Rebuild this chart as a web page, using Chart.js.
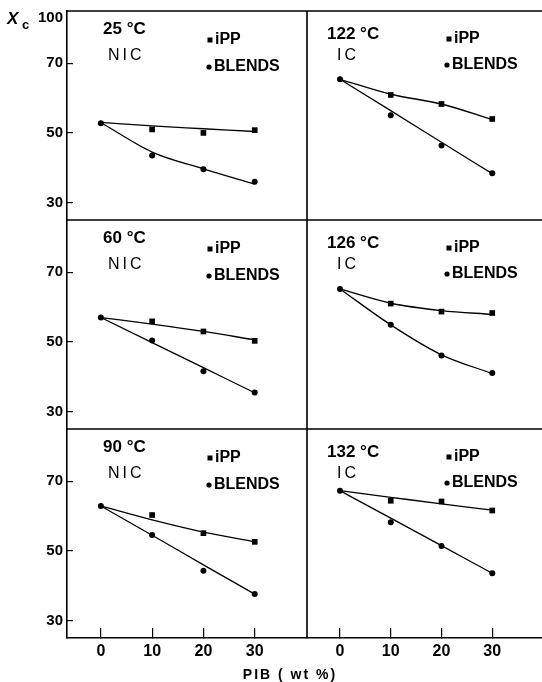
<!DOCTYPE html>
<html>
<head>
<meta charset="utf-8">
<script src="https://cdn.jsdelivr.net/npm/chart.js@4.4.0/dist/chart.umd.min.js"></script>
<style>
  html, body { margin: 0; padding: 0; background: #fff; }
  #wrap { position: relative; width: 542px; height: 682px; }
</style>
</head>
<body>
<div id="wrap"><canvas id="myChart" width="542" height="682"></canvas></div>
<script>
// PIB content of the blends (wt %)
const pibWt = [0, 10, 20, 30];

// panels, row by row: left column NIC, right column IC
const tempLabels = ['25', '122', '60', '126', '90', '132'];
const modeLabels = ['NIC', 'IC', 'NIC', 'IC', 'NIC', 'IC'];

// crystallinity Xc (%)
const ippXc = [
    [52.8, 51.0, 50.0, 50.8],
    [65.4, 60.9, 58.3, 54.0],
    [57.0, 55.9, 53.0, 50.3],
    [65.2, 61.0, 58.7, 58.3],
    [62.9, 60.3, 55.1, 52.6],
    [67.3, 64.4, 64.2, 61.6]
];
const blendXc = [
    [52.8, 43.5, 39.6, 36.0],
    [65.4, 55.1, 46.4, 38.4],
    [57.0, 50.4, 41.6, 35.5],
    [65.2, 54.9, 46.1, 41.1],
    [62.9, 54.6, 44.3, 37.6],
    [67.3, 58.2, 51.4, 43.6]
];

// hand drawn trend curves through the points
const ippFit = [
    [53.0, 52.0, 51.2, 50.4],
    [65.4, 61.1, 58.3, 53.8],
    [57.0, 55.1, 53.0, 50.6],
    [65.2, 61.1, 59.0, 57.9],
    [62.9, 58.9, 55.4, 52.6],
    [67.3, 65.4, 63.5, 61.7]
];
const blendFit = [
    [53.0, 44.5, 39.7, 35.3],
    [65.4, 56.4, 47.3, 38.3],
    [57.0, 49.8, 42.6, 35.4],
    [65.2, 54.9, 46.3, 40.9],
    [62.9, 54.5, 46.0, 37.6],
    [67.3, 59.4, 51.5, 43.6]
];

const yTicks = [30, 50, 70];
const xTicks = [0, 10, 20, 30];

const FONT = 'Liberation Sans';

function pts(ys) {
    return pibWt.map((x, i) => ({ x: x, y: ys[i] }));
}

// stacked left axes are laid out bottom-up, so the top row gets y2
function rowAxis(p) {
    return 'y' + (2 - Math.floor(p / 2));
}

// no extra room for overflowing tick labels, the frame is fixed
function noPad(s) {
    s.paddingTop = 0; s.paddingBottom = 0; s.paddingLeft = 0; s.paddingRight = 0;
}

// build datasets, one set of four per panel
const datasets = [];
for (let p = 0; p < 6; p++) {
    const xId = p % 2 === 0 ? 'xa' : 'xb';
    const yId = rowAxis(p);
    datasets.push({
        label: 'iPP fit', data: pts(ippFit[p]), xAxisID: xId, yAxisID: yId,
        showLine: true, borderColor: '#000', borderWidth: 1.3, pointRadius: 0,
        cubicInterpolationMode: 'monotone'
    });
    datasets.push({
        label: 'BLENDS fit', data: pts(blendFit[p]), xAxisID: xId, yAxisID: yId,
        showLine: true, borderColor: '#000', borderWidth: 1.3, pointRadius: 0,
        cubicInterpolationMode: 'monotone'
    });
    datasets.push({
        label: 'iPP', data: pts(ippXc[p]), xAxisID: xId, yAxisID: yId,
        showLine: false, pointStyle: 'rect', pointRadius: [0, 4, 4, 4],
        backgroundColor: '#000', borderColor: '#000', borderWidth: 0
    });
    datasets.push({
        label: 'BLENDS', data: pts(blendXc[p]), xAxisID: xId, yAxisID: yId,
        showLine: false, pointStyle: 'circle', pointRadius: 3,
        backgroundColor: '#000', borderColor: '#000', borderWidth: 0
    });
}

const scales = {};
['y0', 'y1', 'y2'].forEach(id => {
    scales[id] = {
        type: 'linear', position: 'left', stack: 'rows', stackWeight: 1,
        min: 25, max: 85,
        afterBuildTicks: s => { s.ticks = yTicks.map(v => ({ value: v })); },
        afterFit: s => { s.width = 67; noPad(s); },
        border: { color: '#000', width: 1.6 },
        grid: { drawOnChartArea: false, drawTicks: true, tickLength: -6, color: '#000', lineWidth: 1.2 },
        ticks: { color: '#000', font: { family: FONT, weight: 'bold', size: 15 }, padding: 10, autoSkip: false }
    };
});
[['xa', -6.6, 40.2, 240], ['xb', -6.5, 39.8, 235]].forEach(([id, lo, hi, w]) => {
    scales[id] = {
        type: 'linear', position: 'bottom', stack: 'cols', stackWeight: w,
        min: lo, max: hi,
        afterBuildTicks: s => { s.ticks = xTicks.map(v => ({ value: v })); },
        afterFit: s => { s.height = 44; noPad(s); },
        border: { color: '#000', width: 1.6 },
        grid: { drawOnChartArea: false, drawTicks: true, tickLength: -10, color: '#000', lineWidth: 1.2 },
        ticks: { color: '#000', font: { family: FONT, weight: 'bold', size: 16 }, padding: 14, maxRotation: 0, autoSkip: false }
    };
});

// frame, panel texts and in-panel keys
const panelText = {
    id: 'panelText',
    afterDraw(chart) {
        const ctx = chart.ctx;
        const a = chart.chartArea;
        const s = chart.scales;
        ctx.save();
        ctx.strokeStyle = '#000';
        ctx.lineWidth = 1.6;
        ctx.beginPath();
        ctx.moveTo(a.left, a.top); ctx.lineTo(a.right, a.top);
        ctx.moveTo(a.left, s.y2.bottom); ctx.lineTo(a.right, s.y2.bottom);
        ctx.moveTo(a.left, s.y1.bottom); ctx.lineTo(a.right, s.y1.bottom);
        ctx.moveTo(s.xa.right, a.top); ctx.lineTo(s.xa.right, a.bottom);
        ctx.stroke();

        ctx.fillStyle = '#000';
        ctx.textBaseline = 'middle';
        ctx.textAlign = 'left';
        for (let p = 0; p < 6; p++) {
            const xs = p % 2 === 0 ? s.xa : s.xb;
            const ys = s[rowAxis(p)];
            const left = xs.left, top = ys.top;
            const right = p % 2 === 1;
            const off = right
                ? { tx: 20, ty: 23, mx: 30, my: 45, ix: 142, iy: 28, bx: 140, by: 54 }
                : { tx: 36, ty: 18, mx: 41, my: 45, ix: 143, iy: 29, bx: 142, by: 56 };

            ctx.font = 'bold 17px ' + FONT;
            ctx.letterSpacing = '0px';
            ctx.fillText(tempLabels[p] + ' °C', left + off.tx, top + off.ty);

            ctx.font = '16px ' + FONT;
            ctx.letterSpacing = '3px';
            ctx.fillText(modeLabels[p], left + off.mx, top + off.my);
            ctx.letterSpacing = '0px';

            ctx.fillRect(left + off.ix - 2.5, top + off.iy - 2.5, 5, 5);
            ctx.beginPath();
            ctx.arc(left + off.bx, top + off.by, 2.6, 0, Math.PI * 2);
            ctx.fill();
            ctx.font = 'bold 16px ' + FONT;
            ctx.fillText('iPP', left + off.ix + 5, top + off.iy);
            ctx.fillText('BLENDS', left + off.bx + 5, top + off.by);
        }

        // y axis name and top value
        ctx.font = 'italic bold 17px ' + FONT;
        ctx.fillText('X', 7, 19);
        ctx.font = 'bold 13px ' + FONT;
        ctx.fillText('c', 22, 25);
        ctx.font = 'bold 15px ' + FONT;
        ctx.textAlign = 'right';
        ctx.fillText('100', 63, 18);

        // x axis name
        ctx.textAlign = 'center';
        ctx.font = 'bold 14px ' + FONT;
        ctx.letterSpacing = '2px';
        ctx.fillText('PIB ( wt %)', 290, 675);
        ctx.restore();
    }
};

const myChart = new Chart(document.getElementById('myChart'), {
    type: 'scatter',
    data: { datasets: datasets },
    options: {
        responsive: false,
        animation: false,
        layout: { autoPadding: false, padding: { top: 11, left: 0, right: 0, bottom: 0 } },
        plugins: { legend: { display: false }, tooltip: { enabled: false } },
        scales: scales
    },
    plugins: [panelText]
});
</script>
</body>
</html>
